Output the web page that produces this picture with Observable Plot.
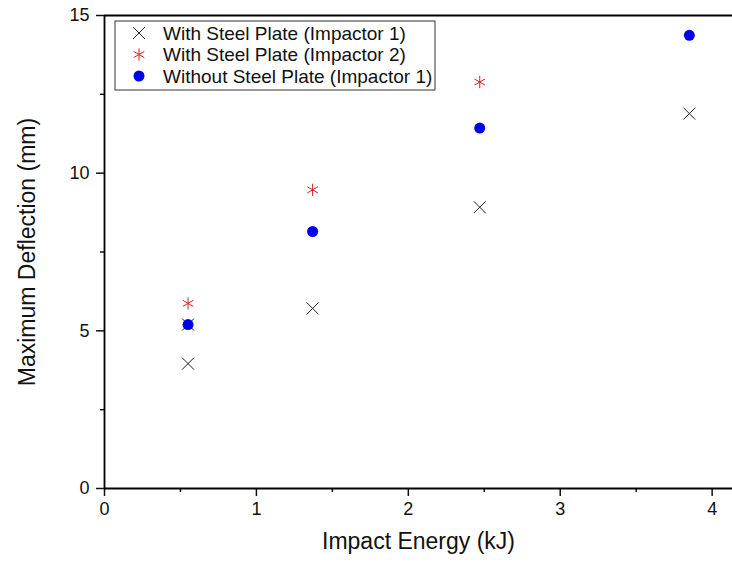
<!DOCTYPE html>
<html>
<head>
<meta charset="utf-8">
<script src="https://cdn.jsdelivr.net/npm/d3@7"></script>
<script src="https://cdn.jsdelivr.net/npm/@observablehq/plot@0.6"></script>
<style>
  body { margin: 0; background: #fff; }
  #chart { position: relative; width: 732px; height: 565px; }
</style>
</head>
<body>
<div id="chart"></div>
<script>
// Impact energy (kJ) and maximum deflection (mm) for each test series
const seriesNames = [
  "With Steel Plate (Impactor 1)",
  "With Steel Plate (Impactor 2)",
  "Without Steel Plate (Impactor 1)"
];
const seriesColors = ["#222222", "#d62020", "#0000f0"];

const plate1Energy = [0.55, 0.55, 1.37, 2.47, 3.85];
const plate1Deflection = [3.96, 5.20, 5.71, 8.92, 11.89];

const plate2Energy = [0.55, 1.37, 2.47];
const plate2Deflection = [5.87, 9.47, 12.89];

const noPlateEnergy = [0.55, 1.37, 2.47, 3.85];
const noPlateDeflection = [5.20, 8.15, 11.43, 14.37];

const xMajor = [0, 1, 2, 3, 4];
const xMinor = [0.5, 1.5, 2.5, 3.5];
const yMajor = [0, 5, 10, 15];
const yMinor = [2.5, 7.5, 12.5];

const xTitle = "Impact Energy (kJ)";
const yTitle = "Maximum Deflection (mm)";

const toRows = (xs, ys, s) => xs.map((x, i) => ({energy: x, deflection: ys[i], series: seriesNames[s]}));
const plate1 = toRows(plate1Energy, plate1Deflection, 0);
const plate2 = toRows(plate2Energy, plate2Deflection, 1);
const noPlate = toRows(noPlateEnergy, noPlateDeflection, 2);

const font = "Arial, 'Liberation Sans', sans-serif";

const plot = Plot.plot({
  width: 732,
  height: 565,
  marginLeft: 104,
  marginRight: 0,
  marginTop: 15,
  marginBottom: 77,
  style: {fontFamily: font, color: "#111", background: "#fff"},
  x: {domain: [0, 4.134]},
  y: {domain: [0, 15]},
  marks: [
    // minor ticks
    Plot.axisX({ticks: xMinor, tickSize: 4, tickFormat: () => "", strokeWidth: 1.5, label: null}),
    Plot.axisY({ticks: yMinor, tickSize: 4, tickFormat: () => "", strokeWidth: 1.5, label: null}),
    // major ticks and labels
    Plot.axisX({ticks: xMajor, tickSize: 8, tickPadding: 6, fontSize: 18, strokeWidth: 1.5,
      tickFormat: d3.format("d"), label: null}),
    Plot.axisY({ticks: yMajor, tickSize: 8, tickPadding: 7, fontSize: 18, strokeWidth: 1.5,
      tickFormat: d3.format("d"), label: null}),
    // axis titles
    Plot.text([xTitle], {text: d => d, frameAnchor: "bottom", textAnchor: "middle", dy: 60, fontSize: 23, fill: "#111"}),
    Plot.text([yTitle], {text: d => d, frameAnchor: "left", textAnchor: "middle", rotate: -90, dx: -77, fontSize: 23, fill: "#111"}),
    // frame lines
    Plot.ruleY([0], {stroke: "#000", strokeWidth: 1.8}),
    Plot.ruleX([0], {stroke: "#000", strokeWidth: 1.8}),
    Plot.ruleY([15], {stroke: "#000", strokeWidth: 1.8}),
    // data
    Plot.dot(plate1, {x: "energy", y: "deflection", symbol: () => "times", r: 5.5, stroke: seriesColors[0], strokeWidth: 1}),
    Plot.dot(plate2, {x: "energy", y: "deflection", symbol: () => "asterisk", r: 5.8, stroke: seriesColors[1], strokeWidth: 1}),
    Plot.dot(noPlate, {x: "energy", y: "deflection", symbol: "circle", r: 5.5, fill: seriesColors[2], stroke: "none"})
  ]
});

document.getElementById("chart").appendChild(plot);

// tick label size
d3.select(plot).selectAll("g[aria-label='x-axis tick label'], g[aria-label='y-axis tick label']")
  .attr("font-size", 18).style("font-size", "18px");

// legend box in the upper left of the plot area
const legendSymbols = [d3.symbolTimes, d3.symbolAsterisk, d3.symbolCircle];
const legendR = [5.5, 5.8, 5.5];
const svg = d3.select(plot);
const leg = svg.append("g").attr("font-family", font).attr("text-anchor", "start");
const lx = 115, ly = 21, lw = 320, lh = 69, rowH = 21.5;
leg.append("rect").attr("x", lx).attr("y", ly).attr("width", lw).attr("height", lh)
  .attr("fill", "#fff").attr("stroke", "#333").attr("stroke-width", 1);
seriesNames.forEach((name, i) => {
  const cy = ly + 12 + i * rowH;
  const cx = lx + 24;
  const filled = i === 2;
  leg.append("path")
    .attr("transform", `translate(${cx},${cy})`)
    .attr("d", d3.symbol(legendSymbols[i], Math.PI * legendR[i] * legendR[i])())
    .attr("fill", filled ? seriesColors[i] : "none")
    .attr("stroke", filled ? "none" : seriesColors[i])
    .attr("stroke-width", 1);
  leg.append("text").attr("x", lx + 48).attr("y", cy).attr("dy", "0.35em")
    .attr("font-size", 19).attr("fill", "#111").text(name);
});
</script>
</body>
</html>
